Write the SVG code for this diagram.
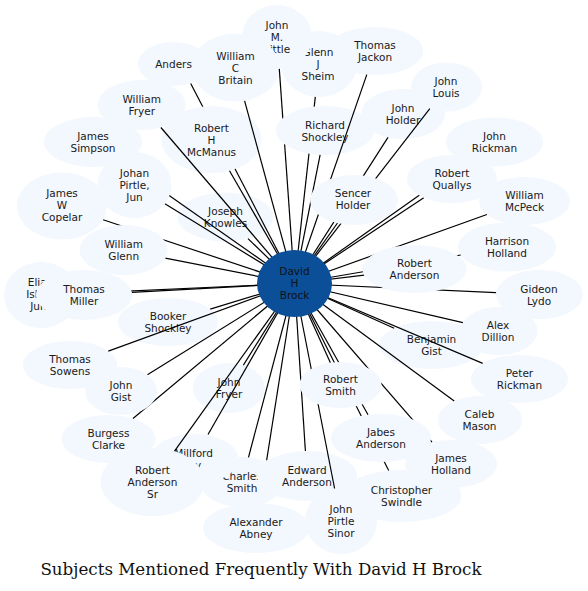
<svg xmlns="http://www.w3.org/2000/svg" width="588" height="591" viewBox="0 0 588 591">
<style>
.n ellipse{fill:#f3f7fe}
text{font-family:"DejaVu Sans","Liberation Sans",sans-serif;font-size:10.5px;text-anchor:middle;fill:#1a1a1a}
.c ellipse{fill:#0b4f99}
.c text{fill:#111}
.e line{stroke:#000;stroke-width:1.2}
.t{font-family:"DejaVu Serif","Liberation Serif",serif;font-size:16.7px;fill:#111}
</style>
<defs>
<clipPath id="clipMcM"><path clip-rule="evenodd" d="M0 0H588V591H0Z M161.5 139.5a50 33.5 0 1 0 100 0a50 33.5 0 1 0 -100 0Z"/></clipPath>
<clipPath id="clipShock"><path clip-rule="evenodd" d="M0 0H588V591H0Z M276 130.5a49 24.5 0 1 0 98 0a49 24.5 0 1 0 -98 0Z"/></clipPath>
<clipPath id="clipAbney"><rect x="0" y="0" width="588" height="460.3"/></clipPath>
</defs>
<rect width="588" height="591" fill="#fff"/>

<g id="nodes-under">
<g id="thomas_jackon" class="n"><ellipse cx="375" cy="51" rx="48" ry="24"/><text><tspan x="375" y="49">Thomas</tspan><tspan x="375" y="61">Jackon</tspan></text></g>
<g id="glenn_j_sheim" class="n"><ellipse cx="319" cy="64" rx="38" ry="33"/><text><tspan x="318" y="56">Glenn</tspan><tspan x="318" y="68">J</tspan><tspan x="318" y="80">Sheim</tspan></text></g>
<g id="john_m_little" class="n"><ellipse cx="277" cy="37" rx="35" ry="32"/><text><tspan x="277" y="29">John</tspan><tspan x="277" y="41">M.</tspan><tspan x="277" y="53">Little</tspan></text></g>
<g id="william_c_britain" class="n"><ellipse cx="235.5" cy="67.5" rx="44" ry="34"/><text><tspan x="235.5" y="59.5">William</tspan><tspan x="235.5" y="71.5">C</tspan><tspan x="235.5" y="83.5">Britain</tspan></text></g>
<g id="anders" class="n"><ellipse cx="173.5" cy="64" rx="35.5" ry="22"/><text x="173.5" y="68">Anders</text></g>
<g id="william_fryer" class="n"><ellipse cx="141.7" cy="105" rx="44" ry="25"/><text><tspan x="141.7" y="103">William</tspan><tspan x="141.7" y="115">Fryer</tspan></text></g>
<g id="james_simpson" class="n"><ellipse cx="93" cy="142" rx="49" ry="25"/><text><tspan x="93" y="140">James</tspan><tspan x="93" y="152">Simpson</tspan></text></g>
<g id="robert_h_mcmanus" class="n"><ellipse cx="211.5" cy="139.5" rx="50" ry="33.5"/><text><tspan x="211.5" y="131.5">Robert</tspan><tspan x="211.5" y="143.5">H</tspan><tspan x="211.5" y="155.5">McManus</tspan></text></g>
<g id="richard_shockley" class="n"><ellipse cx="325" cy="130.5" rx="49" ry="24.5"/><text><tspan x="325" y="128.5">Richard</tspan><tspan x="325" y="140.5">Shockley</tspan></text></g>
<g id="john_holder" class="n"><ellipse cx="403" cy="114" rx="42" ry="25"/><text><tspan x="403" y="112">John</tspan><tspan x="403" y="124">Holder</tspan></text></g>
<g id="john_louis" class="n"><ellipse cx="446.5" cy="87" rx="35.5" ry="24.5"/><text><tspan x="446" y="85">John</tspan><tspan x="446" y="97">Louis</tspan></text></g>
<g id="john_rickman" class="n"><ellipse cx="494.5" cy="142" rx="48.5" ry="24.5"/><text><tspan x="494.5" y="140">John</tspan><tspan x="494.5" y="152">Rickman</tspan></text></g>
<g id="william_mcpeck" class="n"><ellipse cx="524.5" cy="201" rx="45.5" ry="24"/><text><tspan x="524.5" y="199">William</tspan><tspan x="524.5" y="211">McPeck</tspan></text></g>
<g id="harrison_holland" class="n"><ellipse cx="507" cy="247" rx="49" ry="24.5"/><text><tspan x="507" y="245">Harrison</tspan><tspan x="507" y="257">Holland</tspan></text></g>
<g id="gideon_lydo" class="n"><ellipse cx="539.5" cy="294.5" rx="43.5" ry="24.5"/><text><tspan x="539" y="292.5">Gideon</tspan><tspan x="539" y="304.5">Lydo</tspan></text></g>
<g id="alex_dillion" class="n"><ellipse cx="499" cy="331" rx="38.5" ry="24"/><text><tspan x="498" y="329">Alex</tspan><tspan x="498" y="341">Dillion</tspan></text></g>
<g id="benjamin_gist" class="n"><ellipse cx="431.5" cy="345" rx="52" ry="24"/><text><tspan x="431.5" y="343">Benjamin</tspan><tspan x="431.5" y="355">Gist</tspan></text></g>
<g id="peter_rickman" class="n"><ellipse cx="519.5" cy="379" rx="48.5" ry="24"/><text><tspan x="519.5" y="377">Peter</tspan><tspan x="519.5" y="389">Rickman</tspan></text></g>
<g id="caleb_mason" class="n"><ellipse cx="480" cy="420" rx="42" ry="24"/><text><tspan x="479.5" y="418">Caleb</tspan><tspan x="479.5" y="430">Mason</tspan></text></g>
<g id="james_holland" class="n"><ellipse cx="451" cy="464" rx="46" ry="24"/><text><tspan x="451" y="462">James</tspan><tspan x="451" y="474">Holland</tspan></text></g>
<g id="christopher_swindle" class="n"><ellipse cx="401.5" cy="496" rx="60" ry="26"/><text><tspan x="401.5" y="494">Christopher</tspan><tspan x="401.5" y="506">Swindle</tspan></text></g>
<g id="john_pirtle_sinor" class="n"><ellipse cx="341" cy="521" rx="36" ry="33"/><text><tspan x="341" y="513">John</tspan><tspan x="341" y="525">Pirtle</tspan><tspan x="341" y="537">Sinor</tspan></text></g>
<g id="alexander_abney" class="n"><ellipse cx="256" cy="528" rx="53" ry="25"/><text><tspan x="256" y="526">Alexander</tspan><tspan x="256" y="538">Abney</tspan></text></g>
<g id="charles_smith" class="n"><ellipse cx="242" cy="482" rx="42" ry="25"/><text><tspan x="242" y="480">Charles</tspan><tspan x="242" y="492">Smith</tspan></text></g>
<g id="edward_anderson" class="n"><ellipse cx="307" cy="476" rx="50" ry="25"/><text><tspan x="307" y="474">Edward</tspan><tspan x="307" y="486">Anderson</tspan></text></g>
<g id="millford_ivy" class="n"><ellipse cx="194.5" cy="459" rx="44" ry="25"/><text><tspan x="193.5" y="457">Millford</tspan><tspan x="193.5" y="469">Ivy</tspan></text></g>
<g id="robert_anderson_sr" class="n"><ellipse cx="152.5" cy="482" rx="52" ry="34"/><text><tspan x="152.5" y="474">Robert</tspan><tspan x="152.5" y="486">Anderson</tspan><tspan x="152.5" y="498">Sr</tspan></text></g>
<g id="burgess_clarke" class="n"><ellipse cx="108.5" cy="439" rx="47" ry="24"/><text><tspan x="108.5" y="437">Burgess</tspan><tspan x="108.5" y="449">Clarke</tspan></text></g>
<g id="thomas_sowens" class="n"><ellipse cx="70" cy="365" rx="47" ry="24"/><text><tspan x="70" y="363">Thomas</tspan><tspan x="70" y="375">Sowens</tspan></text></g>
<g id="john_fryer" class="n"><ellipse cx="229" cy="388" rx="36" ry="25"/><text><tspan x="229" y="386">John</tspan><tspan x="229" y="398">Fryer</tspan></text></g>
<g id="booker_shockley" class="n"><ellipse cx="168" cy="322" rx="50" ry="24"/><text><tspan x="168" y="320">Booker</tspan><tspan x="168" y="332">Shockley</tspan></text></g>
<g id="elias_isbell_jun" class="n"><ellipse cx="41" cy="295" rx="37" ry="33"/><text><tspan x="40" y="286">Elias</tspan><tspan x="40" y="298">Isbell</tspan><tspan x="40" y="310">Jun.</tspan></text></g>
<g id="james_w_copelar" class="n"><ellipse cx="62" cy="206" rx="45" ry="33.5"/><text><tspan x="62" y="197">James</tspan><tspan x="62" y="209">W</tspan><tspan x="62" y="221">Copelar</tspan></text></g>
<g id="joseph_knowles" class="n"><ellipse cx="225.5" cy="217" rx="48" ry="24.5"/><text><tspan x="225.5" y="214.5">Joseph</tspan><tspan x="225.5" y="226.5">Knowles</tspan></text></g>
</g>

<g id="connectors" class="e">
<line x1="190.7" y1="83.5" x2="294.5" y2="283.5" clip-path="url(#clipMcM)"/>
<line x1="244.6" y1="100.8" x2="294.5" y2="283.5"/>
<line x1="279.3" y1="68.9" x2="294.5" y2="283.5" clip-path="url(#clipShock)"/>
<line x1="315.3" y1="96.9" x2="294.5" y2="283.5" clip-path="url(#clipShock)"/>
<line x1="366.8" y1="74.6" x2="294.5" y2="283.5"/>
<line x1="429.8" y1="108.6" x2="294.5" y2="283.5"/>
<line x1="388" y1="137.4" x2="294.5" y2="283.5"/>
<line x1="320.1" y1="154.9" x2="294.5" y2="283.5"/>
<line x1="160.9" y1="127.5" x2="294.5" y2="283.5"/>
<line x1="229.5" y1="170.75" x2="294.5" y2="283.5"/>
<line x1="121.8" y1="162.2" x2="294.5" y2="283.5"/>
<line x1="164.9" y1="203.7" x2="294.5" y2="283.5"/>
<line x1="103.1" y1="219.7" x2="294.5" y2="283.5"/>
<line x1="248" y1="238.65" x2="294.5" y2="283.5"/>
<line x1="337.5" y1="223" x2="294.5" y2="283.5"/>
<line x1="423.8" y1="197.7" x2="294.5" y2="283.5"/>
<line x1="466.3" y1="161.9" x2="294.5" y2="283.5"/>
<line x1="486.9" y1="214.5" x2="294.5" y2="283.5"/>
<line x1="460.7" y1="255" x2="294.5" y2="283.5"/>
<line x1="364.2" y1="275.1" x2="294.5" y2="283.5"/>
<line x1="496.1" y1="292.55" x2="294.5" y2="283.5"/>
<line x1="165.3" y1="258.2" x2="294.5" y2="283.5"/>
<line x1="78" y1="293.3" x2="294.5" y2="283.5"/>
<line x1="131.7" y1="292.4" x2="294.5" y2="283.5"/>
<line x1="210.2" y1="309.1" x2="294.5" y2="283.5"/>
<line x1="108.3" y1="351.1" x2="294.5" y2="283.5"/>
<line x1="147.4" y1="374.7" x2="294.5" y2="283.5"/>
<line x1="243.4" y1="365.1" x2="294.5" y2="283.5"/>
<line x1="330.4" y1="362.7" x2="294.5" y2="283.5"/>
<line x1="394.2" y1="328.3" x2="294.5" y2="283.5"/>
<line x1="462.9" y1="322.6" x2="294.5" y2="283.5"/>
<line x1="482.7" y1="363.4" x2="294.5" y2="283.5"/>
<line x1="454.2" y1="401" x2="294.5" y2="283.5"/>
<line x1="368" y1="414.8" x2="294.5" y2="283.5"/>
<line x1="432" y1="442.1" x2="294.5" y2="283.5"/>
<line x1="388.7" y1="470.6" x2="294.5" y2="283.5"/>
<line x1="133" y1="418.5" x2="294.5" y2="283.5"/>
<line x1="208" y1="434.5" x2="294.5" y2="283.5"/>
<line x1="174.5" y1="451.2" x2="294.5" y2="283.5"/>
<line x1="248.5" y1="457.3" x2="294.5" y2="283.5"/>
<line x1="305.4" y1="451" x2="294.5" y2="283.5"/>
<line x1="259.9" y1="503.1" x2="294.5" y2="283.5" clip-path="url(#clipAbney)"/>
<line x1="334.6" y1="488.5" x2="294.5" y2="283.5"/>
</g>

<g id="nodes-over">
<g id="johan_pirtle_jun" class="n"><ellipse cx="134.5" cy="185" rx="37" ry="33"/><text><tspan x="134.5" y="177">Johan</tspan><tspan x="134.5" y="189">Pirtle,</tspan><tspan x="134.5" y="201">Jun</tspan></text></g>
<g id="william_glenn" class="n"><ellipse cx="123.7" cy="250" rx="44" ry="25"/><text><tspan x="123.7" y="248">William</tspan><tspan x="123.7" y="260">Glenn</tspan></text></g>
<g id="thomas_miller" class="n"><ellipse cx="84" cy="295" rx="48" ry="25"/><text><tspan x="84" y="293">Thomas</tspan><tspan x="84" y="305">Miller</tspan></text></g>
<g id="john_gist" class="n"><ellipse cx="121" cy="391" rx="36" ry="24"/><text><tspan x="121" y="389">John</tspan><tspan x="121" y="401">Gist</tspan></text></g>
<g id="robert_smith" class="n"><ellipse cx="340.5" cy="385" rx="41" ry="23"/><text><tspan x="340.5" y="383">Robert</tspan><tspan x="340.5" y="395">Smith</tspan></text></g>
<g id="jabes_anderson" class="n"><ellipse cx="381" cy="438" rx="50" ry="24"/><text><tspan x="381" y="436">Jabes</tspan><tspan x="381" y="448">Anderson</tspan></text></g>
<g id="sencer_holder" class="n"><ellipse cx="354" cy="200" rx="44" ry="25"/><text><tspan x="353" y="197">Sencer</tspan><tspan x="353" y="209">Holder</tspan></text></g>
<g id="robert_quallys" class="n"><ellipse cx="452" cy="179" rx="45" ry="24"/><text><tspan x="452" y="177">Robert</tspan><tspan x="452" y="189">Quallys</tspan></text></g>
<g id="robert_anderson" class="n"><ellipse cx="414.5" cy="269" rx="52" ry="24"/><text><tspan x="414.5" y="267">Robert</tspan><tspan x="414.5" y="279">Anderson</tspan></text></g>
<g id="david_h_brock" class="c"><ellipse cx="294.5" cy="283.5" rx="37.5" ry="33.5"/><text><tspan x="294.5" y="275">David</tspan><tspan x="294.5" y="287">H</tspan><tspan x="294.5" y="299">Brock</tspan></text></g>
</g>

<text class="t" x="261" y="575">Subjects Mentioned Frequently With David H Brock</text>
</svg>
